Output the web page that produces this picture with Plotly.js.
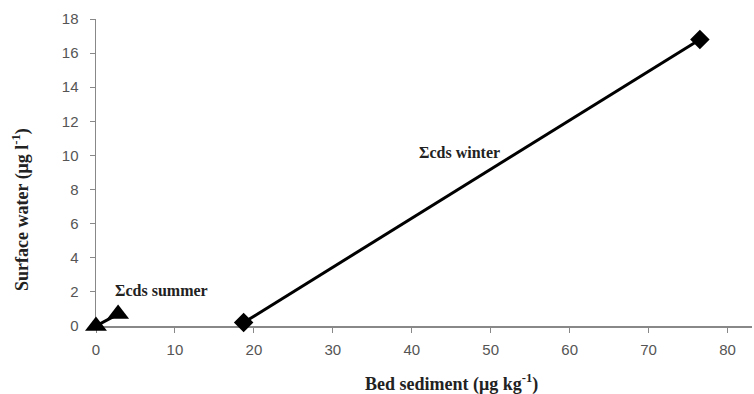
<!DOCTYPE html>
<html>
<head>
<meta charset="utf-8">
<script src="https://cdn.plot.ly/plotly-3.0.1.min.js"></script>
<style>html,body{margin:0;padding:0;background:#fff;}#chart{width:754px;height:394px;}</style>
</head>
<body>
<div id="chart"></div>
<script>
var summerX = [0, 2.8];
var summerY = [0, 0.7];
var winterX = [18.7, 76.5];
var winterY = [0.2, 16.8];
var xTicks = [0, 10, 20, 30, 40, 50, 60, 70, 80];
var yTicks = [0, 2, 4, 6, 8, 10, 12, 14, 16, 18];
var labelSummer = "Σcds summer";
var labelWinter = "Σcds winter";
var xTitle = "Bed sediment (μg kg<sup>-1</sup>)";
var yTitle = "Surface water (μg l<sup>-1</sup>)";

var serif = 'Liberation Serif, Times New Roman, serif';
var sans = 'Liberation Sans, Arial, sans-serif';

var traces = [
  {x: summerX, y: summerY, mode: 'lines+markers', type: 'scatter',
   line: {color: '#000', width: 3},
   marker: {symbol: 'triangle-up', size: 19, color: '#000'}, cliponaxis: false},
  {x: winterX, y: winterY, mode: 'lines+markers', type: 'scatter',
   line: {color: '#000', width: 3},
   marker: {symbol: 'diamond', size: 15, color: '#000'}, cliponaxis: false}
];

var layout = {
  width: 754, height: 394,
  margin: {l: 96, r: 2, t: 19, b: 68},
  showlegend: false,
  paper_bgcolor: '#fff', plot_bgcolor: '#fff',
  xaxis: {range: [0, 83.1], tickvals: xTicks, ticks: 'outside', ticklen: 5, tickcolor: '#888',
    showline: true, linecolor: '#888', linewidth: 1.5, showgrid: false, zeroline: false,
    layer: 'below traces', ticklabelstandoff: 4,
    tickfont: {family: sans, size: 15, color: '#555'}},
  yaxis: {range: [0, 18], tickvals: yTicks, ticks: 'outside', ticklen: 5, tickcolor: '#888',
    showline: true, linecolor: '#888', linewidth: 1.5, showgrid: false, zeroline: false,
    layer: 'below traces', ticklabelstandoff: 8,
    tickfont: {family: sans, size: 15, color: '#555'}},
  annotations: [
    {text: '<b>' + labelSummer + '</b>', x: 2.1, y: 2.1, xref: 'x', yref: 'y', xanchor: 'left', yanchor: 'middle',
     showarrow: false, font: {family: serif, size: 16, color: '#222'}},
    {text: '<b>' + labelWinter + '</b>', x: 46, y: 10.2, xref: 'x', yref: 'y', xanchor: 'center', yanchor: 'middle',
     showarrow: false, font: {family: serif, size: 16, color: '#222'}},
    {text: '<b>' + xTitle + '</b>', xref: 'paper', yref: 'paper',
     x: (451 - 96) / (752 - 96), y: -(383 - 326) / (326 - 19), xanchor: 'center', yanchor: 'middle',
     showarrow: false, font: {family: serif, size: 18, color: '#222'}},
    {text: '<b>' + yTitle + '</b>', xref: 'paper', yref: 'paper',
     x: -(96 - 21) / (752 - 96), y: (326 - 210) / (326 - 19), xanchor: 'center', yanchor: 'middle',
     textangle: -90, showarrow: false, font: {family: serif, size: 18, color: '#222'}}
  ]
};

Plotly.newPlot('chart', traces, layout, {displayModeBar: false, staticPlot: true});
</script>
</body>
</html>
